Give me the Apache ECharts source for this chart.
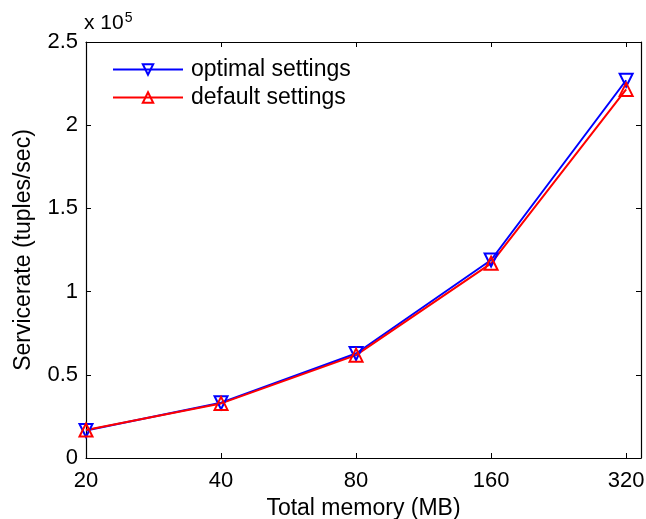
<!DOCTYPE html>
<html>
<head>
<meta charset="utf-8">
<script src="https://cdn.jsdelivr.net/npm/echarts@6/dist/echarts.min.js"></script>
<style>
  html, body { margin: 0; padding: 0; background: #fff; }
  #chart { width: 646px; height: 519px; }
</style>
</head>
<body>
<div id="chart"></div>
<script>
// Total memory settings (MB), one per tick on the x axis
const memoryLabels = ['20', '40', '80', '160', '320'];
// Service rate in units of 10^5 tuples/sec
const optimalRate = [0.165, 0.332, 0.628, 1.19, 2.27];
const defaultRate = [0.168, 0.328, 0.618, 1.17, 2.215];
const yTicks = [0, 0.5, 1, 1.5, 2, 2.5];

const FONT = 'Liberation Sans, Arial, Helvetica, sans-serif';
const TICK_FS = 22;
const TEXT_FS = 23;
const tickPositions = memoryLabels.map((_, i) => i);

const chart = echarts.init(document.getElementById('chart'), null, { renderer: 'canvas' });

function series(name, data, color, rotate) {
  return {
    name: name,
    type: 'line',
    data: data.map((v, i) => [i, v]),
    symbol: 'triangle',
    symbolSize: 13,
    symbolRotate: rotate,
    showAllSymbol: true,
    lineStyle: { color: color, width: 2 },
    itemStyle: { color: 'rgba(255,255,255,0)', borderColor: color, borderWidth: 2 },
    emphasis: { disabled: true },
    animation: false,
    z: 3
  };
}

const axisLine = { show: true, onZero: false, lineStyle: { color: '#000', width: 1.2 } };
const tickStyle = { show: true, inside: true, length: 5, lineStyle: { color: '#000', width: 1 } };

chart.setOption({
  backgroundColor: '#fff',
  animation: false,
  grid: { left: 86, right: 5, top: 42, bottom: 61, containLabel: false, outerBoundsMode: 'none' },
  legend: {
    left: 107, top: 53, orient: 'vertical',
    itemWidth: 70, itemHeight: 13, itemGap: 5,
    textStyle: { fontFamily: FONT, fontSize: TEXT_FS, color: '#000', padding: [0, 0, 0, 3] },
    data: ['optimal settings', 'default settings']
  },
  xAxis: [{
    type: 'value', min: 0, max: 4.11, position: 'bottom',
    axisLine: axisLine,
    axisTick: Object.assign({ customValues: tickPositions }, tickStyle),
    axisLabel: {
      customValues: tickPositions,
      formatter: v => memoryLabels[Math.round(v)],
      fontFamily: FONT, fontSize: TICK_FS, color: '#000', margin: 12
    },
    splitLine: { show: false },
    name: 'Total memory (MB)', nameLocation: 'middle', nameGap: 39, nameMoveOverlap: false,
    nameTextStyle: { fontFamily: FONT, fontSize: TEXT_FS, color: '#000' }
  }, {
    type: 'value', min: 0, max: 4.11, position: 'top',
    axisLine: axisLine,
    axisTick: Object.assign({ customValues: tickPositions }, tickStyle),
    axisLabel: { show: false },
    splitLine: { show: false }
  }],
  yAxis: [{
    type: 'value', min: 0, max: 2.5, interval: 0.5, position: 'left',
    axisLine: axisLine,
    axisTick: tickStyle,
    axisLabel: {
      customValues: yTicks,
      formatter: v => String(v),
      fontFamily: FONT, fontSize: TICK_FS, color: '#000', margin: 8
    },
    splitLine: { show: false },
    name: 'Servicerate (tuples/sec)', nameLocation: 'middle', nameGap: 51, nameMoveOverlap: false,
    nameTextStyle: { fontFamily: FONT, fontSize: TEXT_FS, color: '#000' }
  }, {
    type: 'value', min: 0, max: 2.5, interval: 0.5, position: 'right',
    axisLine: axisLine,
    axisTick: tickStyle,
    axisLabel: { show: false },
    splitLine: { show: false }
  }],
  graphic: [{
    type: 'text', left: 84, top: 11,
    style: {
      text: '{b|x 10}{s|5}',
      rich: {
        b: { fontFamily: FONT, fontSize: 21, fill: '#000' },
        s: { fontFamily: FONT, fontSize: 14, fill: '#000', verticalAlign: 'top', padding: [0, 0, 10, 1] }
      }
    }
  }],
  series: [
    series('optimal settings', optimalRate, '#0000ff', 180),
    series('default settings', defaultRate, '#ff0000', 0)
  ]
});
</script>
</body>
</html>
